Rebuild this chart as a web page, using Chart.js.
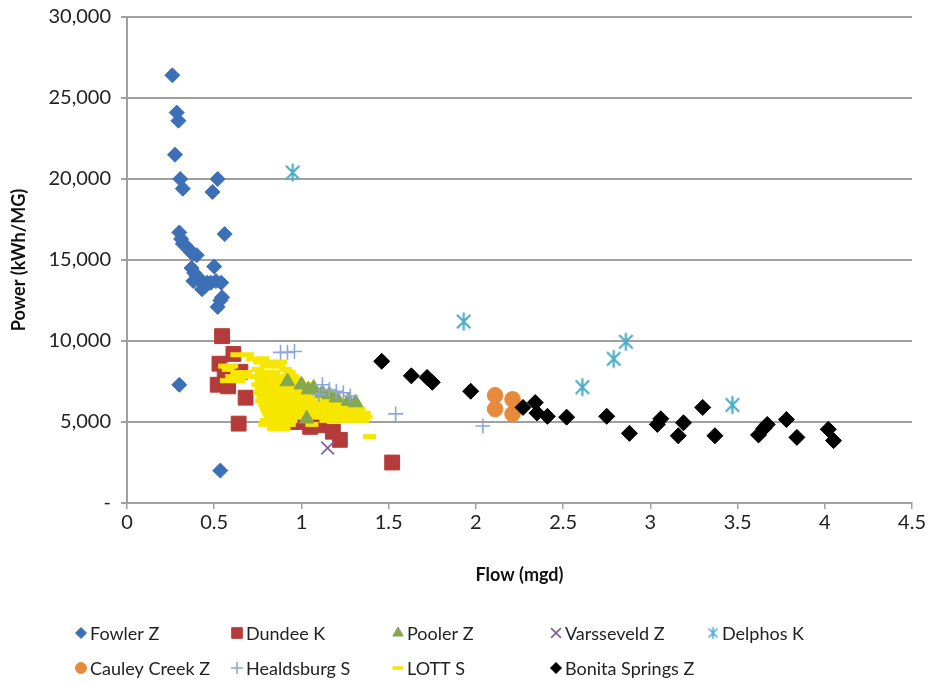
<!DOCTYPE html>
<html><head><meta charset="utf-8">
<script src="https://cdn.jsdelivr.net/npm/chart.js@4/dist/chart.umd.min.js"></script>
<style>html,body{margin:0;padding:0;background:#fff}#wrap{width:928px;height:686px}</style>
</head><body><div id="wrap"><canvas id="c" width="928" height="686"></canvas></div>
<script>
// ---- data (x = Flow mgd, y = Power kWh/MG) ----
const seriesNames = ['Fowler Z','Dundee K','Pooler Z','Varsseveld Z','Delphos K','Cauley Creek Z','Healdsburg S','LOTT S','Bonita Springs Z'];
const fowlerZ = [[0.26,26400],[0.285,24100],[0.295,23600],[0.275,21500],[0.305,20000],[0.32,19400],[0.52,20000],[0.49,19200],
 [0.30,16700],[0.56,16600],[0.31,16300],[0.32,16000],[0.335,15900],[0.35,15700],[0.365,15500],[0.38,15400],[0.40,15300],
 [0.50,14600],[0.37,14500],[0.385,14200],[0.40,14000],[0.42,13800],[0.38,13700],[0.44,13500],[0.46,13600],[0.51,13700],
 [0.54,13600],[0.48,13600],[0.43,13200],[0.45,13400],[0.535,12500],[0.52,12100],[0.545,12700],[0.30,7300],[0.535,2000]];
const dundeeK = [[0.545,10300],[0.61,9200],[0.53,8600],[0.65,8100],[0.52,7300],[0.58,7200],[0.68,6500],[0.64,4900],
 [0.56,8000],[0.57,7700],[0.97,5000],[1.02,5100],[1.05,4700],[1.10,4800],[1.18,4400],[1.22,3900],[1.52,2500]];
const poolerZ = [[0.92,7500],[1.0,7300],[1.04,7000],[1.07,7100],[1.12,6800],[1.16,6700],[1.20,6500],[1.27,6300],[1.31,6200],[1.03,5200]];
const varsseveldZ = [[1.15,3400]];
const delphosK = [[0.95,20400],[1.93,11200],[2.61,7150],[2.79,8900],[2.86,9950],[3.47,6050]];
const cauleyCreekZ = [[2.11,6650],[2.11,5800],[2.21,6400],[2.21,5500]];
const healdsburgS = [[0.88,9300],[0.92,9300],[0.96,9350],[1.12,7300],[1.16,7000],[1.20,6900],[1.24,6800],[1.28,6600],[1.10,6700],[1.54,5500],[2.04,4750]];
const lottS = [
 [0.63,9150],[0.69,9150],
 [0.72,8900],[0.78,8900],
 [0.76,8700],[0.83,8700],[0.88,8700],
 [0.56,8450],[0.60,8450],[0.80,8450],[0.87,8450],
 [0.58,8250],[0.75,8250],[0.91,8250],
 [0.63,8050],[0.68,8050],[0.77,8050],[0.84,8050],[0.93,8050],
 [0.60,7800],[0.66,7800],[0.74,7800],[0.81,7800],[0.88,7800],[0.95,7800],
 [0.57,7550],[0.64,7550],[0.77,7550],[0.84,7550],[0.91,7550],[0.98,7550],
 [0.75,7300],[0.82,7300],[0.89,7300],[0.96,7300],[1.02,7300],
 [0.77,7050],[0.84,7050],[0.91,7050],[0.98,7050],[1.05,7050],
 [0.76,6800],[0.83,6800],[0.90,6800],[0.97,6800],[1.04,6800],[1.10,6800],
 [0.78,6550],[0.85,6550],[0.92,6550],[0.99,6550],[1.06,6550],[1.13,6550],[1.18,6550],
 [0.77,6300],[0.84,6300],[0.91,6300],[0.98,6300],[1.05,6300],[1.12,6300],[1.19,6300],[1.24,6300],
 [0.79,6050],[0.86,6050],[0.93,6050],[1.00,6050],[1.07,6050],[1.14,6050],[1.21,6050],[1.27,6050],
 [0.80,5800],[0.87,5800],[0.94,5800],[1.01,5800],[1.08,5800],[1.15,5800],[1.22,5800],[1.29,5800],[1.33,5800],
 [0.81,5550],[0.88,5550],[0.95,5550],[1.02,5550],[1.09,5550],[1.16,5550],[1.23,5550],[1.30,5550],[1.36,5550],
 [0.82,5300],[0.89,5300],[0.96,5300],[1.03,5300],[1.10,5300],[1.17,5300],[1.24,5300],[1.31,5300],[1.37,5300],
 [0.80,5100],[0.87,5100],[0.94,5100],[1.14,5100],[1.21,5100],[1.28,5100],[1.35,5100],
 [0.79,4850],[0.86,4850],[0.93,4850],[1.06,4850],
 [0.84,4600],[0.90,4600],
 [1.39,4100]];
const bonitaSpringsZ = [[1.46,8750],[1.63,7850],[1.72,7750],[1.75,7450],[1.97,6900],[2.27,5900],[2.34,6200],[2.35,5550],
 [2.41,5350],[2.52,5300],[2.75,5350],[2.88,4300],[3.04,4850],[3.06,5200],[3.16,4150],[3.19,4950],[3.30,5900],[3.37,4150],
 [3.62,4200],[3.65,4600],[3.67,4850],[3.78,5150],[3.84,4050],[4.02,4550],[4.05,3850]];
const xTicks = [0,0.5,1,1.5,2,2.5,3,3.5,4,4.5];
const yTicks = [0,5000,10000,15000,20000,25000,30000];

// ---- asterisk marker (Excel style: X plus vertical bar) ----
function makeAsterisk(size, color, lw){
  const c = document.createElement('canvas'); c.width = size; c.height = size;
  const g = c.getContext('2d'); g.strokeStyle = color; g.lineWidth = lw; g.lineCap='butt';
  const m = size/2, r = size/2 - 1.5, d = r*0.75;
  g.beginPath();
  g.moveTo(m, m-r); g.lineTo(m, m+r);
  g.moveTo(m-d, m-d); g.lineTo(m+d, m+d);
  g.moveTo(m+d, m-d); g.lineTo(m-d, m+d);
  g.stroke();
  return c;
}
const asteriskBig = makeAsterisk(21, '#4BACC6', 2.2);
const asteriskSmall = makeAsterisk(15, '#4BACC6', 1.6);

const toPts = arr => arr.map(p => ({x:p[0], y:p[1]}));
const styles = [
 {bg:'#3D6FB6', bc:'#3D6FB6', ps:'rectRot', r:7.5, bw:1, order:9, lr:5.5},
 {bg:'#B53B3B', bc:'#B53B3B', ps:'rect', r:10.5, bw:1, order:8, lr:7.5},
 {bg:'#85A84F', bc:'#85A84F', ps:'triangle', r:8.5, bw:1, order:3, lr:6},
 {bg:'#8064A2', bc:'#8064A2', ps:'crossRot', r:9, bw:1.8, order:2, lr:7},
 {bg:'#4BACC6', bc:'#4BACC6', ps:asteriskBig, r:10, bw:0, order:2, lr:7, lps:asteriskSmall},
 {bg:'#E88A3C', bc:'#E88A3C', ps:'circle', r:7.8, bw:1, order:2, lr:5.5},
 {bg:'#8FA6DA', bc:'#8FA6DA', ps:'cross', r:7.5, bw:1.6, order:2, lr:6},
 {bg:'#F7E600', bc:'#F7E600', ps:'line', r:6.5, bw:5, order:4, lr:5.5},
 {bg:'#000000', bc:'#000000', ps:'rectRot', r:8, bw:1, order:1, lr:5.5}
];
const seriesData = [fowlerZ,dundeeK,poolerZ,varsseveldZ,delphosK,cauleyCreekZ,healdsburgS,lottS,bonitaSpringsZ];
const datasets = seriesData.map((d,i)=>({
  label: seriesNames[i], data: toPts(d),
  backgroundColor: styles[i].bg, borderColor: styles[i].bc,
  pointStyle: styles[i].ps, pointRadius: styles[i].r, pointBorderWidth: styles[i].bw,
  pointHoverRadius: styles[i].r, order: styles[i].order, showLine:false
}));

const FONT = 'Lato, "Open Sans", sans-serif';
const gridLegend = {
  id:'gridLegend',
  afterDraw(chart){
    const ctx = chart.ctx;
    const cols = [81,237,398,556,713], rows = [633,668];
    chart.data.datasets.forEach((ds,i)=>{
      const st = styles[i];
      const x = cols[i%5], y = rows[Math.floor(i/5)];
      ctx.save();
      ctx.fillStyle = st.bg; ctx.strokeStyle = st.bc;
      const bw = st.ps==='line' ? 3.5 : st.bw;
      ctx.lineWidth = bw;
      Chart.helpers.drawPoint(ctx, {pointStyle: st.lps || st.ps, radius: st.lr, rotation:0, borderWidth: bw}, x, y);
      ctx.restore();
      ctx.save();
      ctx.fillStyle = '#222'; ctx.font = '18px ' + FONT; ctx.textBaseline = 'middle'; ctx.textAlign='left';
      ctx.fillText(ds.label, x + 9, y + 1);
      ctx.restore();
    });
  }
};

new Chart(document.getElementById('c'), {
  type:'scatter',
  data:{datasets},
  plugins:[gridLegend],
  options:{
    responsive:false, animation:false, devicePixelRatio:1,
    layout:{padding:{left:8,right:12,top:17,bottom:100}},
    plugins:{legend:{display:false}, tooltip:{enabled:false}},
    scales:{
      x:{type:'linear', min:0, max:4.5,
        afterBuildTicks: s => { s.ticks = xTicks.map(v=>({value:v})); },
        ticks:{color:'#222', font:{family:FONT, size:20}, padding:2, callback:v=>String(v)},
        grid:{drawOnChartArea:false, color:'#a0a0a0', lineWidth:1.5, tickLength:6},
        border:{color:'#a0a0a0', width:2},
        title:{display:true, text:'Flow (mgd)', color:'#111', font:{family:FONT, size:18, weight:'bold'}, padding:{top:0,bottom:0}},
        afterFit: s => { s.height = 83; }
      },
      y:{min:0, max:30000,
        afterBuildTicks: s => { s.ticks = yTicks.map(v=>({value:v})); },
        ticks:{color:'#222', font:{family:FONT, size:20}, padding:10, callback:v=> v===0 ? '-' : v.toLocaleString('en-US')},
        grid:{color:'#a0a0a0', lineWidth:2, tickLength:6},
        border:{color:'#a0a0a0', width:2},
        title:{display:true, text:'Power (kWh/MG)', color:'#111', font:{family:FONT, size:18, weight:'bold'}, padding:{top:0,bottom:0}},
        afterFit: s => { s.width = 119; s.paddingTop = 0; s.paddingBottom = 0; }
      }
    }
  }
});
</script></body></html>
